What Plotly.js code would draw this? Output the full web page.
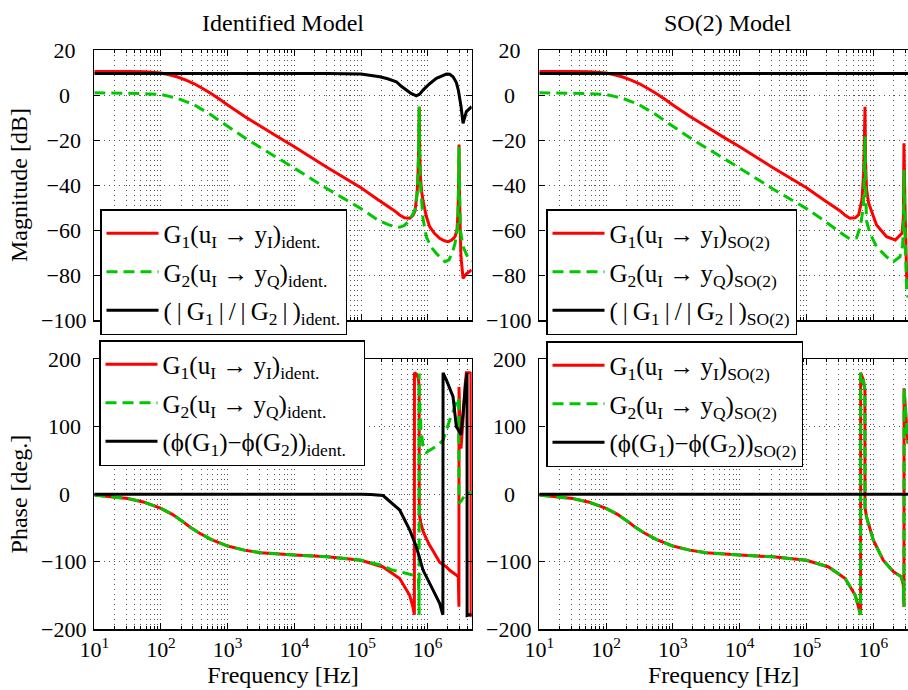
<!DOCTYPE html>
<html><head><meta charset="utf-8">
<script src="https://cdn.plot.ly/plotly-3.0.1.min.js"></script>
<style>html,body{margin:0;padding:0;background:#fff}</style>
</head><body><div id="chart" style="width:908px;height:690px"></div>
<script>
// ---------------- DATA ----------------
// Frequencies in Hz, magnitudes in dB, phases in degrees.

// Top-left: Identified model, magnitude
const fMagIdG1 = [10,31.6,56.2,100,133,178,237,316,422,562,750,1000,1778,3162,5623,1e4,3.16e4,1e5,1.78e5,3.16e5,3.8e5,4.47e5,5.37e5,6.03e5,6.46e5,6.92e5,7.16e5,7.33e5,7.46e5,7.59e5,7.76e5,8.13e5,8.51e5,9.55e5,1.07e6,1.26e6,1.51e6,1.78e6,2.04e6,2.29e6,2.57e6,2.75e6,2.85e6,2.92e6,2.95e6,3.0e6,3.09e6,3.16e6,3.39e6,3.8e6,4.57e6];
const magIdG1  = [10.5,10.4,10.3,9.8,9.0,8.0,6.6,5.0,2.9,0.7,-1.8,-4.4,-9.4,-14,-18.6,-23,-32.3,-41.2,-46.4,-51.4,-53.3,-54.6,-54.8,-53.5,-51.5,-44,-35,-24,-5.2,-25,-36,-43,-47,-54,-58.5,-61.5,-63.7,-64.8,-65.2,-64.5,-63,-60,-52,-38,-22,-45,-62,-72,-81.5,-79.5,-77.7];

const fMagIdG2 = [10,31.6,56.2,100,133,178,237,316,422,562,750,1000,1778,3162,5623,1e4,3.16e4,1e5,1.78e5,2.51e5,3.16e5,3.8e5,4.47e5,5.37e5,6.46e5,6.92e5,7.16e5,7.33e5,7.46e5,7.59e5,7.76e5,8.13e5,8.51e5,9.55e5,1.12e6,1.35e6,1.58e6,1.82e6,2.09e6,2.4e6,2.57e6,2.82e6,2.88e6,2.95e6,3.02e6,3.09e6,3.39e6,4.07e6,4.57e6];
const magIdG2  = [1.0,0.8,0.6,0.2,-0.6,-1.5,-2.9,-4.4,-6.6,-8.8,-11.4,-13.9,-18.9,-23.5,-28,-32.5,-41.8,-50.5,-55.5,-57.5,-58.5,-58.8,-58,-55.6,-51,-44,-35,-22,-5.2,-28,-40,-47,-55,-63,-67.5,-70.4,-72.5,-74.1,-73.3,-69,-66,-58.5,-45,-23,-45,-60,-67.4,-72.6,-74];

const fMagIdRatio = [10,100,1000,1e4,3.16e4,1e5,1.91e5,2.51e5,3.39e5,3.98e5,4.79e5,5.62e5,6.76e5,7.59e5,8.51e5,1.07e6,1.35e6,1.91e6,2.14e6,2.4e6,2.69e6,2.88e6,3.16e6,3.39e6,3.8e6,4.57e6];
const magIdRatio  = [9.6,9.6,9.6,9.6,9.6,9.3,8.1,7.2,5.9,4.0,2.2,0.7,-0.4,0.4,2.2,5.0,7.4,9.3,9.2,8.1,5.5,2.2,-5,-12.6,-7.4,-5.2];

// Top-right: SO(2) model, magnitude
const fMagSoG1 = [10,31.6,56.2,100,133,178,237,316,422,562,750,1000,1778,3162,5623,1e4,3.16e4,1e5,1.78e5,3.16e5,3.8e5,4.47e5,5.37e5,6.03e5,6.76e5,7.16e5,7.33e5,7.52e5,7.67e5,7.94e5,8.51e5,1.12e6,1.58e6,2.14e6,2.69e6,2.82e6,2.88e6,2.99e6,3.16e6,3.31e6];
const magSoG1  = [10.5,10.4,10.3,9.8,9.0,8.0,6.6,5.0,2.9,0.7,-1.8,-4.4,-9.4,-14,-18.6,-23,-32.3,-41.2,-46.4,-51.4,-53.5,-54.8,-54.6,-53.3,-46.7,-35,-22,-5.2,-30,-42,-48,-57.8,-63,-64.4,-61.5,-55,-21.5,-50,-80.7,-83];

const fMagSoG2 = [10,31.6,56.2,100,133,178,237,316,422,562,750,1000,1778,3162,5623,1e4,3.16e4,1e5,1.78e5,3.16e5,4.47e5,5.62e5,6.31e5,6.76e5,7.08e5,7.33e5,7.52e5,7.67e5,7.94e5,8.91e5,1.12e6,1.58e6,2.0e6,2.51e6,2.75e6,2.82e6,2.88e6,2.99e6,3.16e6,3.31e6];
const magSoG2  = [1.0,0.8,0.6,0.2,-0.6,-1.5,-2.9,-4.4,-6.6,-8.8,-11.4,-13.9,-18.9,-23.5,-28,-32.5,-41.8,-50.5,-55.5,-61,-64,-63.5,-59,-54,-50,-38,-18.5,-42,-56,-61.5,-67.4,-71.9,-74.1,-71.9,-67,-58,-33.3,-62,-86.7,-90];

const fMagSoRatio = [10,3.31e6];
const magSoRatio  = [9.6,9.6];

// Bottom-left: Identified model, phase
const fPhIdG1 = [10,31.6,56.2,100,148,214,282,380,562,1000,1778,3162,1e4,3.16e4,1e5,2.14e5,3.8e5,5.37e5,6.03e5,6.31e5,6.33e5,6.76e5,7.24e5,7.44e5,7.48e5,7.76e5,8.51e5,9.55e5,1.07e6,1.2e6,1.51e6,1.91e6,2.14e6,2.69e6,2.88e6,2.94e6,2.95e6,3.09e6,3.16e6,3.39e6,3.63e6,3.8e6,4.27e6,4.45e6,4.47e6,4.57e6];
const phIdG1  = [-1.3,-6.5,-12,-21,-30,-41,-50,-58,-67,-77,-83,-87,-90.4,-93,-98,-108,-125,-150,-168,-179,180,178,172,160,-30,-40,-55,-66,-76,-84,-101,-108,-113,-120,-123,-167,159,70,68,110,160,180,180,179,-182,-180];

const fPhIdG2 = [10,31.6,56.2,100,148,214,282,380,562,1000,1778,3162,1e4,3.16e4,1e5,2.14e5,2.82e5,3.8e5,5.01e5,6.03e5,7.24e5,7.4e5,7.44e5,7.46e5,7.5e5,7.94e5,8.51e5,9.55e5,1.2e6,1.51e6,1.7e6,2.14e6,2.4e6,2.69e6,2.88e6,2.92e6,2.95e6,3.24e6,3.63e6,4.57e6];
const phIdG2  = [-1.3,-6.5,-12,-21,-30,-41,-50,-58,-67,-77,-83,-87,-90.4,-93,-98,-106,-112,-115,-118,-120,-125,-150,-179,179,142,95,72,62,68,75,80,110,122,137,143,140,-14,-9,-1,3];

const fPhIdDiff = [10,1e4,1e5,1.41e5,2.14e5,3.8e5,5.37e5,6.76e5,8.51e5,1.2e6,1.51e6,1.69e6,1.7e6,1.91e6,2.4e6,2.69e6,3.02e6,3.16e6,3.39e6,3.72e6,3.89e6,3.9e6,4.57e6];
const phIdDiff  = [0,0,0,-0.5,-2,-23.6,-53,-78,-112.6,-142,-162,-179,180,169,144.5,100,92,88,120,165,180,-180,-178];

// Bottom-right: SO(2) model, phase (G1 and G2 coincide)
const fPhSo = [10,31.6,56.2,100,148,214,282,380,562,1000,1778,3162,1e4,3.16e4,1e5,2.14e5,3.8e5,5.37e5,6.03e5,6.46e5,6.47e5,7.08e5,7.5e5,7.52e5,7.94e5,1e6,1.41e6,2.0e6,2.63e6,2.82e6,2.88e6,2.89e6,3.16e6,3.31e6];
const phSoG1 = [-1.3,-6.5,-12,-21,-30,-41,-50,-58,-67,-77,-83,-87,-90.4,-93,-98,-108,-125,-150,-168,-179,180,170,155,-20,-34,-68,-98,-115,-122.5,-135,-167,157,100,75];
const phSoG2 = [-1.3,-6.5,-12,-21,-30,-41,-50,-58,-67,-77,-83,-87,-90.4,-93,-98,-108,-125,-150,-168,-179,180,170,155,-20,-34,-68,-98,-115,-122.5,-135,-167,157,100,75];
const fPhSoDiff = [10,3.31e6];
const phSoDiff  = [0,0];

// Axis ticks and labels
const decadeVals = [10,100,1000,1e4,1e5,1e6];
const decadeText = ['10<sup>1</sup>','10<sup>2</sup>','10<sup>3</sup>','10<sup>4</sup>','10<sup>5</sup>','10<sup>6</sup>'];
const magTickVals = [-100,-80,-60,-40,-20,0,20];
const magTickText = ['\u2212100','\u221280\u00a0','\u221260\u00a0','\u221240\u00a0','\u221220\u00a0','0\u00a0\u00a0\u00a0','20\u00a0\u00a0'];
const phTickVals = [-200,-100,0,100,200];
const phTickText = ['\u2212200','\u2212100','0\u00a0\u00a0\u00a0','100\u00a0','200\u00a0'];

// Labels
const titles = ['Identified Model','SO(2) Model'];
const namesId = ['G<sub>1</sub>(u<sub>I</sub> \u2192 y<sub>I</sub>)<sub>ident.</sub>',
                 'G<sub>2</sub>(u<sub>I</sub> \u2192 y<sub>Q</sub>)<sub>ident.</sub>'];
const namesSo = ['G<sub>1</sub>(u<sub>I</sub> \u2192 y<sub>I</sub>)<sub>SO(2)</sub>',
                 'G<sub>2</sub>(u<sub>I</sub> \u2192 y<sub>Q</sub>)<sub>SO(2)</sub>'];
const ratioId = '(\u2009|\u2009G<sub>1</sub>\u2009|\u2009/\u2009|\u2009G<sub>2</sub>\u2009|\u2009)<sub>ident.</sub>';
const ratioSo = '(\u2009|\u2009G<sub>1</sub>\u2009|\u2009/\u2009|\u2009G<sub>2</sub>\u2009|\u2009)<sub>SO(2)</sub>';
const diffId = '(\u03d5(G<sub>1</sub>)\u2212\u03d5(G<sub>2</sub>))<sub>ident.</sub>\u00a0\u00a0';
const diffSo = '(\u03d5(G<sub>1</sub>)\u2212\u03d5(G<sub>2</sub>))<sub>SO(2)</sub>';

// ---------------- STYLE / LAYOUT ----------------
const FAM = 'Liberation Serif, Times New Roman, serif';
const TICKFONT = {family: FAM, size: 22, color: '#000'};
const TITLEFONT = {family: FAM, size: 24, color: '#000'};
const RED = '#ff0000', GREEN = '#00c800', BLACK = '#000000';
const W = 908, H = 690;
const LX = [94.3/W, 471.7/W], RX = [539.3/W, 1];
const TY = [(H-320)/H, (H-50)/H], BY = [(H-629)/H, (H-359.3)/H];
const GRIDDASH = '1px,4px', GRIDCOL = '#555';

const minorVals = [];
for (let d = 10; d <= 1e6; d *= 10) for (let k = 2; k <= 9; k++) minorVals.push(k*d);

function xAx(domain, range, labels, anchor) {
  return {
    type: 'log', domain, range, anchor,
    tickmode: 'array', tickvals: decadeVals, ticktext: decadeText,
    showticklabels: labels, tickfont: TICKFONT,
    ticks: 'inside', ticklen: 6, tickcolor: '#000', tickwidth: 1,
    showline: true, linecolor: '#000', linewidth: 1.5, mirror: 'ticks',
    showgrid: true, gridcolor: GRIDCOL, griddash: GRIDDASH, gridwidth: 1,
    minor: {tickmode: 'array', tickvals: minorVals, ticks: 'inside', ticklen: 3, tickcolor: '#000',
            showgrid: true, gridcolor: GRIDCOL, griddash: GRIDDASH, gridwidth: 1},
    zeroline: false,
    title: labels ? {text: 'Frequency [Hz]', font: TITLEFONT, standoff: 1} : {text: ''}
  };
}
function yAx(domain, range, vals, text, anchor, left, title) {
  return {
    domain, range, anchor,
    tickmode: 'array', tickvals: vals, ticktext: text, tickfont: TICKFONT,
    ticks: 'inside', ticklen: 6, tickcolor: '#000', tickwidth: 1,
    showline: true, linecolor: '#000', linewidth: 1.5, mirror: left ? 'ticks' : false,
    showgrid: true, gridcolor: GRIDCOL, griddash: GRIDDASH, gridwidth: 1,
    zeroline: false, ticklabelstandoff: 2,
    title: title ? {text: title, font: TITLEFONT, standoff: 6} : {text: ''}
  };
}
function legendCfg(xpx, ypx) {
  return {x: xpx/W, y: 1 - ypx/H, xanchor: 'left', yanchor: 'top',
          bgcolor: '#fff', bordercolor: '#000', borderwidth: 1.5,
          font: {family: FAM, size: 25, color: '#000'},
          traceorder: 'grouped', tracegroupgap: 3, itemwidth: 52};
}
function tr(x, y, name, color, dash, xa, ya, leg, grp) {
  return {type: 'scatter', mode: 'lines', x, y, name, xaxis: xa, yaxis: ya, legend: leg, legendgroup: grp,
          line: {color, width: 3, dash: dash, simplify: false}, hoverinfo: 'skip'};
}
const DASH = '11px,6px';

const data = [
  tr(fMagIdG1, magIdG1, namesId[0], RED, 'solid', 'x', 'y', 'legend', 'a1'),
  tr(fMagIdG2, magIdG2, namesId[1], GREEN, DASH, 'x', 'y', 'legend', 'a2'),
  tr(fMagIdRatio, magIdRatio, ratioId, BLACK, 'solid', 'x', 'y', 'legend', 'a3'),
  tr(fMagSoG1, magSoG1, namesSo[0], RED, 'solid', 'x2', 'y2', 'legend2', 'b1'),
  tr(fMagSoG2, magSoG2, namesSo[1], GREEN, DASH, 'x2', 'y2', 'legend2', 'b2'),
  tr(fMagSoRatio, magSoRatio, ratioSo, BLACK, 'solid', 'x2', 'y2', 'legend2', 'b3'),
  tr(fPhIdG1, phIdG1, namesId[0], RED, 'solid', 'x3', 'y3', 'legend3', 'c1'),
  tr(fPhIdG2, phIdG2, namesId[1], GREEN, DASH, 'x3', 'y3', 'legend3', 'c2'),
  tr(fPhIdDiff, phIdDiff, diffId, BLACK, 'solid', 'x3', 'y3', 'legend3', 'c3'),
  tr(fPhSo, phSoG1, namesSo[0], RED, 'solid', 'x4', 'y4', 'legend4', 'd1'),
  tr(fPhSo, phSoG2, namesSo[1], GREEN, DASH, 'x4', 'y4', 'legend4', 'd2'),
  tr(fPhSoDiff, phSoDiff, diffSo, BLACK, 'solid', 'x4', 'y4', 'legend4', 'd3')
];

const layout = {
  width: W, height: H, margin: {l: 0, r: 0, t: 0, b: 0},
  paper_bgcolor: '#fff', plot_bgcolor: '#fff',
  font: {family: FAM, size: 22, color: '#000'},
  showlegend: true,
  xaxis: xAx(LX, [1, 6.66], false, 'y'),
  xaxis2: xAx(RX, [1, 6.52], false, 'y2'),
  xaxis3: xAx(LX, [1, 6.66], true, 'y3'),
  xaxis4: xAx(RX, [1, 6.52], true, 'y4'),
  yaxis: yAx(TY, [-100, 20], magTickVals, magTickText, 'x', true, 'Magnitude [dB]'),
  yaxis2: yAx(TY, [-100, 20], magTickVals, magTickText, 'x2', false, null),
  yaxis3: yAx(BY, [-200, 200], phTickVals, phTickText, 'x3', true, 'Phase [deg.]'),
  yaxis4: yAx(BY, [-200, 200], phTickVals, phTickText, 'x4', false, null),
  legend: legendCfg(100, 209),
  legend2: legendCfg(546, 209),
  legend3: legendCfg(99, 340),
  legend4: legendCfg(546, 341),
  annotations: [
    {text: titles[0], xref: 'paper', yref: 'paper', x: 283/W, y: 1 - 23/H, xanchor: 'center', yanchor: 'middle', showarrow: false, font: TITLEFONT},
    {text: titles[1], xref: 'paper', yref: 'paper', x: 728/W, y: 1 - 23/H, xanchor: 'center', yanchor: 'middle', showarrow: false, font: TITLEFONT}
  ]
};

Plotly.newPlot('chart', data, layout, {staticPlot: true, displayModeBar: false});
</script></body></html>
